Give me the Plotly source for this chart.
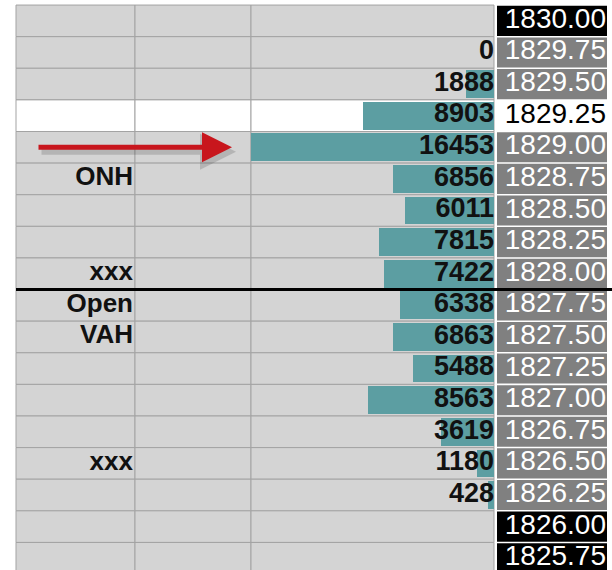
import plotly.graph_objects as go

# ---- data ----
prices = [1830.00, 1829.75, 1829.50, 1829.25, 1829.00, 1828.75, 1828.50, 1828.25, 1828.00,
          1827.75, 1827.50, 1827.25, 1827.00, 1826.75, 1826.50, 1826.25, 1826.00, 1825.75]
volumes = [None, 0, 1888, 8903, 16453, 6856, 6011, 7815, 7422,
           6338, 6863, 5488, 8563, 3619, 1180, 428, None, None]
labels = ["", "", "", "", "", "ONH", "", "", "xxx",
          "Open", "VAH", "", "", "", "xxx", "", "", ""]
price_style = ["black", "grey", "grey", "white", "grey", "grey", "grey", "grey", "grey",
               "grey", "grey", "grey", "grey", "grey", "grey", "grey", "black", "black"]
highlight_price = 1829.25
arrow_price = 1829.00
divider_between = (1828.00, 1827.75)

# ---- layout constants ----
W, H = 612, 570
COL1 = (16, 135)
COL2 = (135, 251)
COL3 = (251, 494)
PCOL = (497, 607)
HALF = 0.125
GRID = "#a3a3a3"
CELL = "#d4d4d4"
TEAL = "#5c9ea2"
FONT = "Liberation Sans, Arial, sans-serif"

price_fill = {"black": "#000000", "grey": "#808080", "white": "#ffffff"}
price_text = {"black": "#ffffff", "grey": "#ffffff", "white": "#000000"}

shapes = []
for p in prices:
    bg = "#ffffff" if p == highlight_price else CELL
    for c0, c1 in (COL1, COL2, COL3):
        shapes.append(dict(type="rect", xref="x", yref="y", x0=c0, x1=c1,
                           y0=p - HALF, y1=p + HALF, fillcolor=bg,
                           line=dict(color=GRID, width=1), layer="below"))
for p, st in zip(prices, price_style):
    shapes.append(dict(type="rect", xref="x", yref="y", x0=PCOL[0], x1=PCOL[1],
                       y0=p - HALF + 0.006, y1=p + HALF - 0.006,
                       fillcolor=price_fill[st], line=dict(width=0), layer="below"))
# divider line
ydiv = (divider_between[0] + divider_between[1]) / 2
shapes.append(dict(type="line", xref="x", yref="y", x0=COL1[0], x1=W,
                   y0=ydiv, y1=ydiv, line=dict(color="#000000", width=3), layer="above"))

fig = go.Figure()

fig.add_trace(go.Bar(
    x=volumes, y=prices, orientation="h", xaxis="x2", yaxis="y",
    width=0.22, marker=dict(color=TEAL, line=dict(width=0)),
    hoverinfo="skip", showlegend=False))

fig.add_trace(go.Scatter(
    x=[0 if v is not None else None for v in volumes], y=prices,
    text=["" if v is None else str(v) for v in volumes],
    mode="text", textposition="middle left", xaxis="x2", yaxis="y",
    textfont=dict(family=FONT, size=27, color="#111111", weight="bold"),
    hoverinfo="skip", showlegend=False))

fig.add_trace(go.Scatter(
    x=[PCOL[1] - 1] * len(prices), y=prices,
    text=[f"{p:.2f}" for p in prices],
    mode="text", textposition="middle left", xaxis="x", yaxis="y",
    textfont=dict(family=FONT, size=28, color=[price_text[s] for s in price_style]),
    hoverinfo="skip", showlegend=False))

fig.add_trace(go.Scatter(
    x=[COL1[1] - 2] * len(prices), y=prices, text=labels,
    mode="text", textposition="middle left", xaxis="x", yaxis="y",
    textfont=dict(family=FONT, size=26, color="#111111", weight="bold"),
    hoverinfo="skip", showlegend=False))

max_v = max(v for v in volumes if v is not None)

fig.update_layout(
    width=W, height=H,
    margin=dict(l=0, r=0, t=0, b=0),
    paper_bgcolor="#ffffff", plot_bgcolor="rgba(0,0,0,0)",
    xaxis=dict(range=[0, W], domain=[0, 1], visible=False, fixedrange=True),
    xaxis2=dict(range=[max_v, 0], domain=[COL3[0] / W, COL3[1] / W],
                anchor="y", visible=False, fixedrange=True),
    yaxis=dict(range=[1825.657, 1830.165], visible=False, fixedrange=True),
    shapes=shapes,
    bargap=0,
    annotations=[
        dict(x=236, y=arrow_price - 0.035, xref="x", yref="y",
             ax=40, ay=arrow_price - 0.035, axref="x", ayref="y",
             showarrow=True, arrowhead=2, arrowsize=1.2, arrowwidth=6,
             arrowcolor="rgba(40,40,40,0.18)", text=""),
        dict(x=232, y=arrow_price, xref="x", yref="y",
             ax=37, ay=arrow_price, axref="x", ayref="y",
             showarrow=True, arrowhead=2, arrowsize=1.2, arrowwidth=5,
             arrowcolor="#c8161d", text=""),
    ],
)

fig.write_html("out.html", config={"displayModeBar": False},
               post_script="document.body.style.margin='0';")
